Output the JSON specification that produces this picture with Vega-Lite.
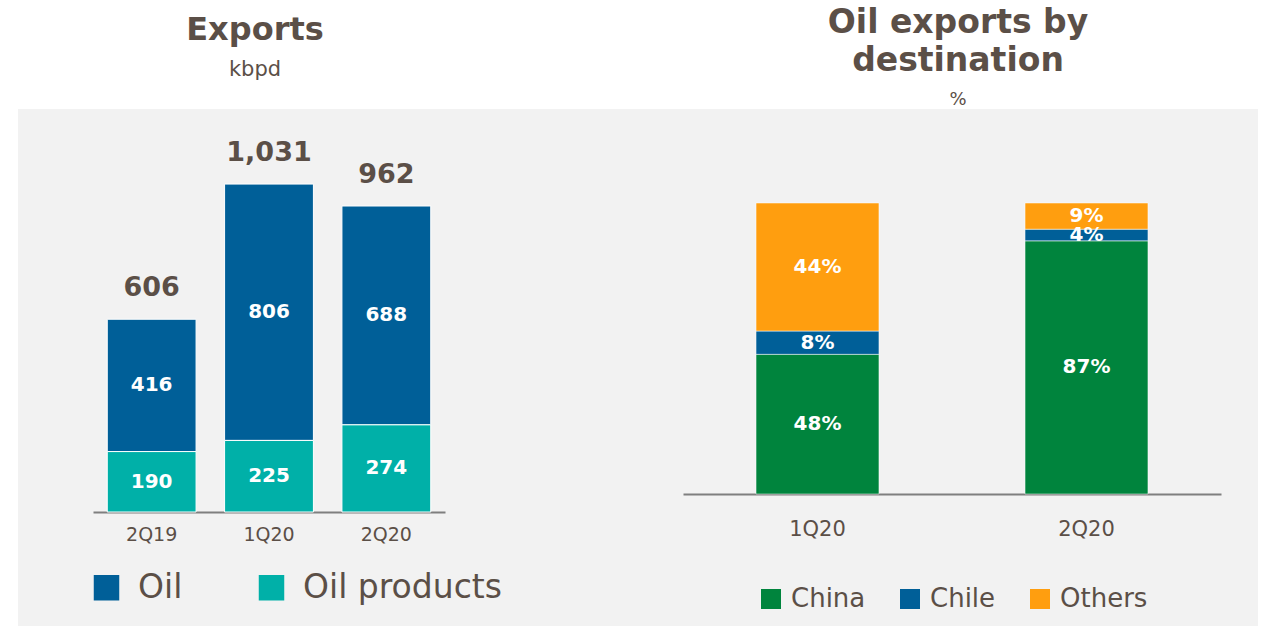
{
  "$schema": "https://vega.github.io/schema/vega-lite/v6.json",
  "background": "white",
  "padding": {"left": 18, "top": 7, "right": 8, "bottom": 0},
  "spacing": 0,
  "config": {
    "view": {"fill": "#f2f2f2", "stroke": null},
    "font": "DejaVu Sans",
    "legend": {"padding": 0}
  },
  "resolve": {"scale": {"x": "independent", "y": "independent", "color": "independent"}, "legend": {"color": "independent"}},
  "hconcat": [
    {
      "width": 622,
      "height": 518,
      "title": {"text": "Exports", "subtitle": "kbpd", "fontSize": 32, "fontWeight": "bold", "color": "#5b4f47", "subtitleFontSize": 21, "subtitleColor": "#5b4f47", "subtitlePadding": 12, "dx": -74, "offset": 28, "anchor": "middle"},
      "data": {"values": [
        {"quarter": "2Q19", "series": "Oil", "value": 416},
        {"quarter": "2Q19", "series": "Oil products", "value": 190},
        {"quarter": "1Q20", "series": "Oil", "value": 806},
        {"quarter": "1Q20", "series": "Oil products", "value": 225},
        {"quarter": "2Q20", "series": "Oil", "value": 688},
        {"quarter": "2Q20", "series": "Oil products", "value": 274}
      ]},
      "encoding": {
        "x": {"field": "quarter", "type": "nominal", "sort": ["2Q19", "1Q20", "2Q20"],
          "scale": {"range": [75, 427], "paddingInner": 0.243, "paddingOuter": 0.1215},
          "axis": {"title": null, "labelAngle": 0, "ticks": false, "offset": -115, "domainColor": "#7f7f7f", "domainWidth": 2, "labelFontSize": 19, "labelColor": "#5b4f47", "labelPadding": 13}}
      },
      "layer": [
        {
          "transform": [{"stack": "value", "groupby": ["quarter"], "sort": [{"field": "series", "order": "descending"}], "as": ["v0", "v1"]}],
          "mark": {"type": "bar", "stroke": "white", "strokeWidth": 1},
          "encoding": {
            "y": {"field": "v0", "type": "quantitative", "scale": {"domain": [0, 1267], "range": [403, 0], "nice": false, "zero": false}, "axis": null},
            "y2": {"field": "v1"},
            "color": {"field": "series", "type": "nominal",
              "scale": {"domain": ["Oil", "Oil products"], "range": ["#005f98", "#00b0a8"]},
              "legend": {"title": null, "orient": "none", "legendX": 72, "legendY": 462, "direction": "horizontal", "symbolType": "square", "symbolSize": 650, "symbolStrokeWidth": 0, "symbolOpacity": 1, "labelFontSize": 33, "labelColor": "#5b4f47", "labelOffset": 15, "columnPadding": 72, "labelLimit": 400}}
          }
        },
        {
          "transform": [
            {"stack": "value", "groupby": ["quarter"], "sort": [{"field": "series", "order": "descending"}], "as": ["v0", "v1"]},
            {"calculate": "(datum.v0 + datum.v1) / 2", "as": "mid"}
          ],
          "mark": {"type": "text", "color": "white", "fontWeight": "bold", "fontSize": 20, "baseline": "middle"},
          "encoding": {
            "y": {"field": "mid", "type": "quantitative"},
            "text": {"field": "value", "type": "quantitative"}
          }
        },
        {
          "transform": [{"aggregate": [{"op": "sum", "field": "value", "as": "total"}], "groupby": ["quarter"]}],
          "mark": {"type": "text", "color": "#5b4f47", "fontWeight": "bold", "fontSize": 27, "baseline": "middle", "dy": -31},
          "encoding": {
            "y": {"field": "total", "type": "quantitative"},
            "text": {"field": "total", "type": "quantitative", "format": ","}
          }
        }
      ]
    },
    {
      "width": 618,
      "height": 518,
      "title": {"text": ["Oil exports by", "destination"], "subtitle": "%", "fontSize": 33, "lineHeight": 38, "fontWeight": "bold", "color": "#5b4f47", "subtitleFontSize": 18, "subtitleColor": "#5b4f47", "subtitlePadding": 13, "dx": 9, "offset": 0, "anchor": "middle"},
      "data": {"values": [
        {"quarter": "1Q20", "dest": "China", "pct": 48},
        {"quarter": "1Q20", "dest": "Chile", "pct": 8},
        {"quarter": "1Q20", "dest": "Others", "pct": 44},
        {"quarter": "2Q20", "dest": "China", "pct": 87},
        {"quarter": "2Q20", "dest": "Chile", "pct": 4},
        {"quarter": "2Q20", "dest": "Others", "pct": 9}
      ]},
      "transform": [
        {"calculate": "indexof(['China','Chile','Others'], datum.dest)", "as": "ord"},
        {"stack": "pct", "groupby": ["quarter"], "sort": [{"field": "ord", "order": "ascending"}], "as": ["p0", "p1"]},
        {"calculate": "(datum.p0 + datum.p1) / 2", "as": "pmid"},
        {"calculate": "datum.pct + '%'", "as": "label"}
      ],
      "encoding": {
        "x": {"field": "quarter", "type": "nominal", "sort": ["1Q20", "2Q20"],
          "scale": {"range": [43, 581], "paddingInner": 0.543, "paddingOuter": 0.2715},
          "axis": {"title": null, "labelAngle": 0, "ticks": false, "offset": -133, "domainColor": "#7f7f7f", "domainWidth": 2, "labelFontSize": 21, "labelColor": "#5b4f47", "labelPadding": 24}}
      },
      "layer": [
        {
          "mark": {"type": "bar", "stroke": "white", "strokeWidth": 0.5},
          "encoding": {
            "y": {"field": "p0", "type": "quantitative", "scale": {"domain": [0, 100], "range": [385, 94], "nice": false}, "axis": null},
            "y2": {"field": "p1"},
            "color": {"field": "dest", "type": "nominal",
              "scale": {"domain": ["China", "Chile", "Others"], "range": ["#00843d", "#005f98", "#ff9e0f"]},
              "legend": {"title": null, "orient": "none", "legendX": 118, "legendY": 477, "direction": "horizontal", "symbolType": "square", "symbolSize": 400, "symbolStrokeWidth": 0, "symbolOpacity": 1, "labelFontSize": 26, "labelColor": "#5b4f47", "labelOffset": 7, "columnPadding": 31, "labelLimit": 300}}
          }
        },
        {
          "mark": {"type": "text", "color": "white", "fontWeight": "bold", "fontSize": 20, "baseline": "middle"},
          "encoding": {
            "y": {"field": "pmid", "type": "quantitative"},
            "text": {"field": "label", "type": "nominal"}
          }
        }
      ]
    }
  ]
}
